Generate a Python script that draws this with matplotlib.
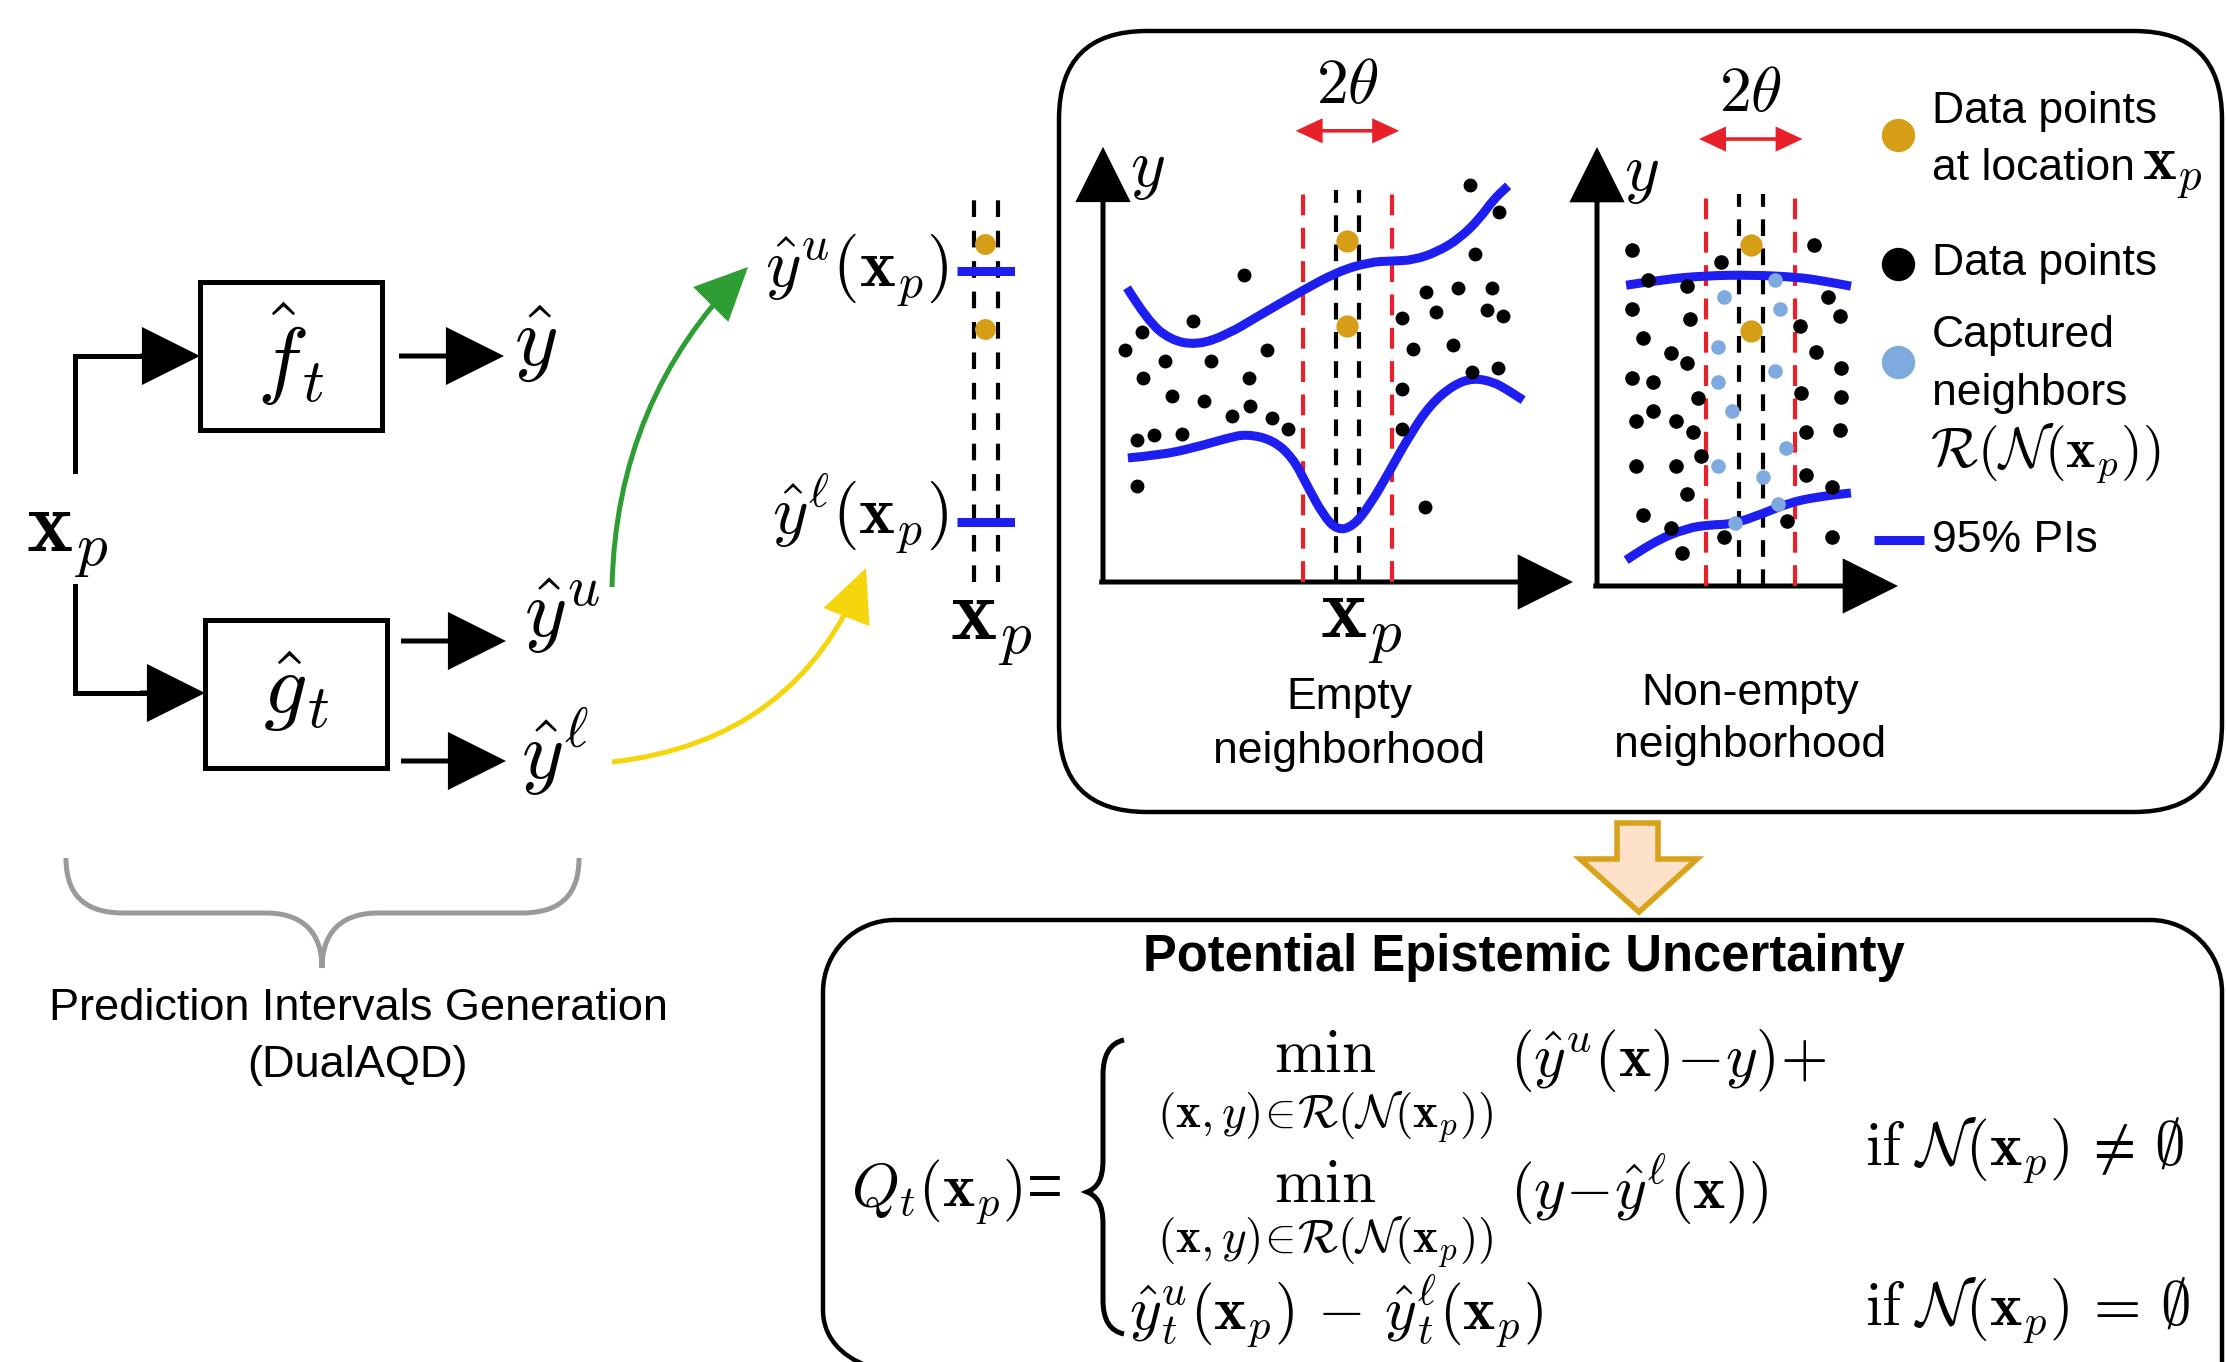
import matplotlib.pyplot as plt
from matplotlib.patches import FancyArrowPatch, FancyBboxPatch, PathPatch, Polygon, Rectangle
from matplotlib.path import Path

plt.rcParams['font.family'] = ['Liberation Sans', 'DejaVu Sans']
plt.rcParams['mathtext.fontset'] = 'cm'

W, H = 2226, 1362

BLUE = '#1e1ef0'
ORANGE = '#d69e16'
LIGHT_BLUE = '#7eaadf'
RED = '#e8202a'

# empty neighborhood panel: scattered data, PI bounds, location x_p
empty_pts_x = [7.81, 8.43, 7.91, 3.00, 6.87, 7.55, 8.28, 7.09, 8.17, 8.51,
               6.36, 1.91, 0.83, 0.47, 6.60, 7.45, 3.49, 1.32, 2.30, 0.85,
               3.11, 1.47, 2.15, 3.13, 2.74, 3.60, 3.94, 6.36, 7.85, 8.40,
               6.36, 0.72, 1.09, 1.68, 0.72, 6.85]
empty_pts_y = [8.45, 7.87, 6.98, 6.53, 6.17, 6.26, 6.26, 5.74, 5.79, 5.66,
               5.62, 5.55, 5.32, 4.94, 4.96, 5.04, 4.94, 4.70, 4.70, 4.34,
               4.34, 3.96, 3.85, 3.74, 3.53, 3.49, 3.26, 4.11, 4.47, 4.55,
               3.26, 3.02, 3.13, 3.15, 2.04, 1.60]
empty_upper_x = [0.51, 0.94, 1.43, 2.00, 2.64, 3.34, 4.19, 4.98, 5.68, 6.17,
                 6.60, 7.11, 7.60, 8.02, 8.30, 8.62]
empty_upper_y = [6.26, 5.57, 5.15, 5.04, 5.26, 5.68, 6.17, 6.60, 6.81, 6.83,
                 6.85, 7.02, 7.32, 7.74, 8.13, 8.43]
empty_lower_x = [0.53, 1.21, 1.91, 2.64, 3.06, 3.62, 4.04, 4.34, 4.68, 4.98,
                 5.32, 5.68, 6.11, 6.53, 6.96, 7.45, 7.87, 8.30, 8.60, 8.94]
empty_lower_y = [2.64, 2.70, 2.85, 3.06, 3.15, 3.02, 2.64, 2.06, 1.43, 1.10,
                 1.18, 1.64, 2.38, 3.13, 3.77, 4.19, 4.34, 4.26, 4.09, 3.87]
empty_xp = 5.2
empty_at_xp_y = [7.26, 5.45]

# non-empty neighborhood panel
dense_pts_x = [0.74, 1.09, 2.64, 1.91, 4.62, 4.91, 0.74, 5.17, 1.98, 4.32,
               0.98, 1.57, 4.66, 1.91, 0.74, 1.19, 5.19, 4.34, 2.15, 5.19,
               1.19, 0.83, 1.68, 2.04, 4.45, 5.17, 2.21, 0.83, 1.68, 4.45,
               1.91, 5.00, 0.98, 1.57, 4.04, 2.70, 5.00, 1.81]
dense_pts_y = [7.15, 6.51, 6.89, 6.38, 7.26, 6.15, 5.89, 5.74, 5.68, 5.53,
               5.28, 4.96, 4.98, 4.74, 4.43, 4.34, 4.64, 4.11, 4.00, 4.02,
               3.72, 3.51, 3.51, 3.28, 3.28, 3.32, 2.77, 2.55, 2.55, 2.36,
               1.96, 2.11, 1.51, 1.23, 1.38, 1.04, 1.04, 0.70]
captured_x = [3.79, 2.70, 3.89, 2.57, 3.79, 2.57, 2.87, 4.02, 2.57, 3.53, 3.85, 2.94]
captured_y = [6.51, 6.15, 5.89, 5.09, 4.57, 4.34, 3.72, 2.94, 2.55, 2.32, 1.74, 1.34]
dense_upper_x = [0.62, 1.47, 2.28, 3.28, 4.28, 4.81, 5.40]
dense_upper_y = [6.40, 6.53, 6.60, 6.62, 6.57, 6.49, 6.38]
dense_lower_x = [0.62, 1.19, 1.91, 2.38, 2.91, 3.55, 4.09, 4.64, 5.40]
dense_lower_y = [0.55, 0.94, 1.23, 1.30, 1.32, 1.55, 1.77, 1.89, 1.98]
dense_xp = 3.27
dense_at_xp_y = [7.26, 5.43]

# interval at x_p next to the pipeline
mid_at_xp_y = [7.19, 5.38]
mid_pi_upper = 6.62
mid_pi_lower = 1.28

theta = 0.95
inner = 0.25

fig = plt.figure(figsize=(W / 100, H / 100), dpi=100)
ax = fig.add_axes([0, 0, 1, 1])
ax.set_xlim(0, W)
ax.set_ylim(H, 0)
ax.axis('off')


def px_axes(left, bottom, width, height):
    a = fig.add_axes([left / W, (H - bottom) / H, width / W, height / H])
    a.axis('off')
    return a


def arrow(a, p0, p1, color='black', lw=3.6, hl=36, hw=18, style='-|>', rad=0.0):
    a.add_patch(FancyArrowPatch(p0, p1, arrowstyle=f'{style},head_length={hl},head_width={hw}',
                                mutation_scale=1, lw=lw, color=color, shrinkA=0, shrinkB=0,
                                connectionstyle=f'arc3,rad={rad}', clip_on=False,
                                joinstyle='miter', capstyle='butt'))


def smooth(a, xs, ys, **kw):
    # quadratic pieces through the midpoints, using the points as controls
    verts = [(xs[0], ys[0])]
    codes = [Path.MOVETO]
    for i in range(1, len(xs) - 1):
        verts += [(xs[i], ys[i]), ((xs[i] + xs[i + 1]) / 2, (ys[i] + ys[i + 1]) / 2)]
        codes += [Path.CURVE3, Path.CURVE3]
    verts.append((xs[-1], ys[-1]))
    codes.append(Path.LINETO)
    a.add_patch(PathPatch(Path(verts, codes), fill=False, ec=BLUE, lw=6.5,
                          capstyle='butt', joinstyle='round', zorder=3, **kw))


def vdash(a, xv, top, color, pattern):
    a.plot([xv, xv], [0, top], color=color, lw=3, ls=(0, pattern), clip_on=False)


def panel(a, x_end, y_end, xp, at_xp_y, top=8.34, arrow_y=9.55):
    for xv in (xp - theta, xp + theta):
        vdash(a, xv, top, RED, (5, 3))
    for xv in (xp - inner, xp + inner):
        vdash(a, xv, top, 'black', (4, 3))
    arrow(a, (-0.08, 0), (x_end, 0), hl=34, hw=17)
    arrow(a, (0, 0), (0, y_end), hl=34, hw=17)
    arrow(a, (xp - theta - 0.15, arrow_y), (xp + theta + 0.15, arrow_y), color=RED,
          lw=2.6, hl=15, hw=7, style='<|-|>')
    a.text(xp, arrow_y + 0.95, r'$2\theta$', fontsize=46, ha='center', va='center')
    a.text(0.95, 8.75, r'$y$', fontsize=48, ha='center', va='center')
    a.plot([xp] * len(at_xp_y), at_xp_y, 'o', color=ORANGE, ms=16, mec='none', zorder=5, clip_on=False)


# left pipeline: x_p -> f_t / g_t
ax.add_patch(Rectangle((200, 282), 182, 148, fill=False, lw=3.6, ec='black'))
ax.add_patch(Rectangle((205, 620), 182, 148, fill=False, lw=3.6, ec='black'))
ax.text(291, 354, r'$\hat{f}_t$', fontsize=62, ha='center', va='center')
ax.text(296, 692, r'$\hat{g}_t$', fontsize=62, ha='center', va='center')
ax.text(67, 540, r'$\mathbf{x}_p$', fontsize=63, ha='center', va='center')
ax.plot([75, 75, 150], [471, 356, 356], color='black', lw=3.6, solid_joinstyle='miter')
ax.plot([75, 75, 150], [586, 693, 693], color='black', lw=3.6, solid_joinstyle='miter')
arrow(ax, (140, 356), (200, 356))
arrow(ax, (140, 693), (205, 693))
arrow(ax, (399, 356), (504, 356))
arrow(ax, (401, 641), (506, 641))
arrow(ax, (401, 761), (506, 761))
ax.text(536, 344, r'$\hat{y}$', fontsize=60, ha='center', va='center')
ax.text(524, 616, r'$\hat{y}^u$', fontsize=58, ha='left', va='center')
ax.text(521, 752, r'$\hat{y}^\ell$', fontsize=58, ha='left', va='center')

arrow(ax, (612, 587), (748, 267), color='#2e9e34', lw=3.6, hl=32, hw=15, rad=-0.2)
arrow(ax, (612, 762), (866, 568), color='#f5d60c', lw=3.6, hl=32, hw=15, rad=0.3)

# brace under the pipeline
brace = Path([(66, 858), (66, 900), (90, 913), (124, 913), (266, 913),
              (300, 913), (322, 930), (322, 968),
              (322, 930), (344, 913), (378, 913), (521, 913),
              (555, 913), (579, 900), (579, 858)],
             [Path.MOVETO, Path.CURVE4, Path.CURVE4, Path.CURVE4, Path.LINETO,
              Path.CURVE4, Path.CURVE4, Path.CURVE4,
              Path.CURVE4, Path.CURVE4, Path.CURVE4, Path.LINETO,
              Path.CURVE4, Path.CURVE4, Path.CURVE4])
ax.add_patch(PathPatch(brace, fill=False, ec='#9a9a9a', lw=3.6))
ax.text(358, 1008, 'Prediction Intervals Generation', fontsize=32.5, ha='center', va='center')
ax.text(358, 1066, '(DualAQD)', fontsize=32.5, ha='center', va='center')

# interval at x_p
mid = px_axes(957, 582, 58, 470)
mid.set_xlim(0, 1.234)
mid.set_ylim(0, 10)
for xv in (0.36, 0.87):
    vdash(mid, xv, 8.23, 'black', (4, 3.3))
mid.plot([0, 1.234], [mid_pi_upper] * 2, color=BLUE, lw=6.5, solid_capstyle='butt')
mid.plot([0, 1.234], [mid_pi_lower] * 2, color=BLUE, lw=6.5, solid_capstyle='butt')
mid.plot([0.6] * 2, mid_at_xp_y, 'o', color=ORANGE, ms=15, mec='none', zorder=5)
ax.text(948, 270, r'$\hat{y}^u(\mathbf{x}_p)$', fontsize=49, ha='right', va='center')
ax.text(948, 514, r'$\hat{y}^\ell(\mathbf{x}_p)$', fontsize=49, ha='right', va='center')
ax.text(991, 628, r'$\mathbf{x}_p$', fontsize=63, ha='center', va='center')

# upper panel frame
ax.add_patch(FancyBboxPatch((1059, 31), 1163, 781, boxstyle='round,pad=0,rounding_size=88',
                            fill=False, lw=3.2, ec='black'))

empty = px_axes(1103, 582, 470, 470)
empty.set_xlim(0, 10)
empty.set_ylim(0, 10)
panel(empty, 10.0, 9.26, empty_xp, empty_at_xp_y, arrow_y=9.6)
smooth(empty, empty_upper_x, empty_upper_y)
smooth(empty, empty_lower_x, empty_lower_y)
empty.plot(empty_pts_x, empty_pts_y, 'o', color='black', ms=10, mec='none', zorder=4)
ax.text(1361, 625, r'$\mathbf{x}_p$', fontsize=63, ha='center', va='center')
ax.text(1349, 698, 'Empty', fontsize=32, ha='center', va='center')
ax.text(1349, 752, 'neighborhood', fontsize=32, ha='center', va='center')

dense = px_axes(1597, 586, 301, 470)
dense.set_xlim(0, 6.4)
dense.set_ylim(0, 10)
panel(dense, 6.4, 9.34, dense_xp, dense_at_xp_y, arrow_y=9.51)
smooth(dense, dense_upper_x, dense_upper_y)
smooth(dense, dense_lower_x, dense_lower_y)
dense.plot(dense_pts_x, dense_pts_y, 'o', color='black', ms=10.5, mec='none', zorder=4)
dense.plot(captured_x, captured_y, 'o', color=LIGHT_BLUE, ms=10.5, mec='none', zorder=4)
ax.text(1750, 694, 'Non-empty', fontsize=32, ha='center', va='center')
ax.text(1750, 746, 'neighborhood', fontsize=32, ha='center', va='center')

# legend
ax.plot(1898, 135, 'o', color=ORANGE, ms=24, mec='none')
ax.plot(1898, 264, 'o', color='black', ms=24, mec='none')
ax.plot(1898, 362, 'o', color=LIGHT_BLUE, ms=24, mec='none')
ax.plot([1874, 1924], [540, 540], color=BLUE, lw=6.5, solid_capstyle='butt')
ax.text(1932, 112, 'Data points', fontsize=32, va='center')
ax.text(1932, 169, 'at location', fontsize=32, va='center')
ax.text(2142, 172, r'$\mathbf{x}_p$', fontsize=46, va='center')
ax.text(1932, 264, 'Data points', fontsize=32, va='center')
ax.text(1932, 336, 'Captured', fontsize=32, va='center')
ax.text(1932, 393, 'neighbors', fontsize=32, va='center')
ax.text(1930, 453, r'$\mathcal{R}(\mathcal{N}(\mathbf{x}_p))$', fontsize=40, va='center')
ax.text(1932, 540, '95% PIs', fontsize=32, va='center')

# hollow arrow between the panels
ax.add_patch(Polygon([(1617, 823), (1658, 823), (1658, 859), (1697, 859), (1639, 912),
                      (1580, 859), (1617, 859)], closed=True, fc='#fde1c8', ec='#d9a21b',
                     lw=4, joinstyle='miter'))

# lower panel: potential epistemic uncertainty (runs off the bottom edge)
frame = Path([(868, 1366), (840, 1356), (823, 1336), (823, 1310), (823, 992),
              (823, 952), (855, 920), (895, 920), (2150, 920),
              (2190, 920), (2222, 952), (2222, 992), (2222, 1366)],
             [Path.MOVETO, Path.CURVE4, Path.CURVE4, Path.CURVE4, Path.LINETO,
              Path.CURVE4, Path.CURVE4, Path.CURVE4, Path.LINETO,
              Path.CURVE4, Path.CURVE4, Path.CURVE4, Path.LINETO])
ax.add_patch(PathPatch(frame, fill=False, lw=3.2, ec='black'))
ax.text(1524, 958, 'Potential Epistemic Uncertainty', fontsize=36.5, fontweight='bold',
        ha='center', va='center')

cb = Path([(1124, 1040), (1110, 1043), (1103, 1055), (1103, 1075), (1103, 1160),
           (1103, 1180), (1097, 1188), (1087, 1192),
           (1097, 1196), (1103, 1204), (1103, 1224), (1103, 1300),
           (1103, 1320), (1110, 1331), (1124, 1334)],
          [Path.MOVETO, Path.CURVE4, Path.CURVE4, Path.CURVE4, Path.LINETO,
           Path.CURVE4, Path.CURVE4, Path.CURVE4,
           Path.CURVE4, Path.CURVE4, Path.CURVE4, Path.LINETO,
           Path.CURVE4, Path.CURVE4, Path.CURVE4])
ax.add_patch(PathPatch(cb, fill=False, ec='black', lw=3.6))

fs = 44
ax.text(851, 1192, r'$Q_t(\mathbf{x}_p)$=', fontsize=fs, va='center')
sub = r'$(\mathbf{x},y)\!\in\!\mathcal{R}(\mathcal{N}(\mathbf{x}_p))$'
ax.text(1325, 1072, r'$\min$', fontsize=fs, ha='center', va='baseline')
ax.text(1325, 1089, sub, fontsize=34, ha='center', va='top')
ax.text(1510, 1060, r'$(\hat{y}^u(\mathbf{x})\!-\!y)\!+$', fontsize=fs, va='center')
ax.text(1325, 1202, r'$\min$', fontsize=fs, ha='center', va='baseline')
ax.text(1325, 1214, sub, fontsize=34, ha='center', va='top')
ax.text(1510, 1190, r'$(y\!-\!\hat{y}^\ell(\mathbf{x}))$', fontsize=fs, va='center')
ax.text(1129, 1312, r'$\hat{y}^u_t(\mathbf{x}_p)\,-\,\hat{y}^\ell_t(\mathbf{x}_p)$', fontsize=fs, va='center')
ax.text(1865, 1150, r'$\mathrm{if}\;\mathcal{N}(\mathbf{x}_p)\,\neq\,\emptyset$', fontsize=fs, va='center')
ax.text(1865, 1310, r'$\mathrm{if}\;\mathcal{N}(\mathbf{x}_p)\,=\,\emptyset$', fontsize=fs, va='center')

fig.savefig('out.png', dpi=100)
